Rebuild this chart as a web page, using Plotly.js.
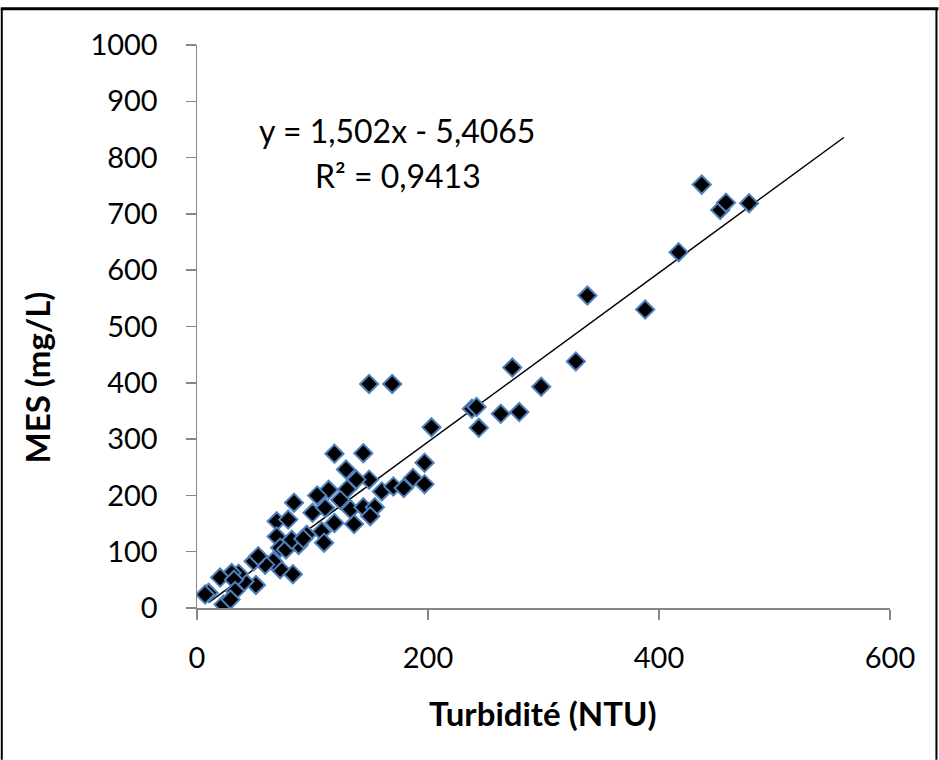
<!DOCTYPE html>
<html>
<head>
<meta charset="utf-8">
<script src="https://cdn.plot.ly/plotly-3.0.1.min.js"></script>
<style>
html,body{margin:0;padding:0;background:#fff;}
#chart{width:939px;height:760px;}
</style>
</head>
<body>
<div id="chart"></div>
<script>
const turbidite = [437,453,458,478,417,338,388,273,328,298,238,242,263,279,244,203,149,169,
  119,144,129,197,149,114,104,130,138,160,170,179,187,197,84,100,111,124,133,144,154,150,136,119,108,110,
  69,79,95,69,72,77,88,82,92,83,72,66,59,49,53,51,41,36,30,20,32,33,10,7,23,29];
const mes = [752,707,720,719,632,555,530,427,438,393,354,357,345,348,320,321,398,398,
  274,275,246,258,228,210,200,211,228,207,216,213,231,220,187,169,178,192,175,179,179,163,149,151,136,116,
  154,157,130,127,107,104,112,121,123,60,69,83,77,83,92,41,47,61,62,54,50,30,27,24,6,15];
const slope = 1.502, intercept = -5.4065;
const trendX = [10, 560];
const trendY = trendX.map(v => slope * v + intercept);
const eqLine1 = "y = 1,502x - 5,4065";
const eqLine2 = "R² = 0,9413";
const xTitle = "<b>Turbidité (NTU)</b>";
const yTitle = "<b>MES (mg/L)</b>";
const xTicks = [0, 200, 400, 600];
const yTicks = [0,100,200,300,400,500,600,700,800,900,1000];

const font = "Lato, 'Open Sans', sans-serif";
const L = 196.5, R = 890.5, T = 45.3, B = 608.3;
const W = R - L, H = B - T;
const px = v => (v - L) / W;
const py = v => (B - v) / H;

const traces = [
  {x: trendX, y: trendY, mode: 'lines', line: {color: '#000', width: 1.5}, hoverinfo: 'skip', showlegend: false},
  {x: turbidite, y: mes, mode: 'markers', showlegend: false,
   marker: {symbol: 'diamond', size: 14, color: '#000', line: {color: '#4f81bd', width: 2}}}
];

const layout = {
  width: 939, height: 760,
  margin: {l: L, r: 939 - R, t: T, b: 760 - B},
  paper_bgcolor: '#fff', plot_bgcolor: '#fff',
  font: {family: font, color: '#000', size: 29},
  xaxis: {range: [0, 600], tickvals: xTicks, ticks: 'outside', ticklen: 10, tickcolor: '#868686', tickwidth: 1.5,
    showline: true, linecolor: '#868686', linewidth: 1.5, showgrid: false, zeroline: false,
    ticklabelstandoff: 14,
    tickfont: {size: 29, family: font}},
  yaxis: {range: [0, 1000], tickvals: yTicks, ticks: 'outside', ticklen: 10, tickcolor: '#868686', tickwidth: 1.5,
    showline: true, linecolor: '#868686', linewidth: 1.5, showgrid: false, zeroline: false,
    ticklabelstandoff: 22,
    tickfont: {size: 29, family: font}},
  annotations: [
    {xref: 'paper', yref: 'paper', x: px(397), y: py(131), text: eqLine1, showarrow: false,
     xanchor: 'center', yanchor: 'middle', font: {size: 32, family: font}},
    {xref: 'paper', yref: 'paper', x: px(398), y: py(176), text: eqLine2, showarrow: false,
     xanchor: 'center', yanchor: 'middle', font: {size: 32, family: font}},
    {xref: 'paper', yref: 'paper', x: px(543), y: py(713), text: xTitle, showarrow: false,
     xanchor: 'center', yanchor: 'middle', font: {size: 33, family: font}},
    {xref: 'paper', yref: 'paper', x: px(36), y: py(378), text: yTitle, showarrow: false, textangle: -90,
     xanchor: 'center', yanchor: 'middle', font: {size: 33, family: font}}
  ],
  shapes: [
    {type: 'line', xref: 'paper', yref: 'paper', x0: px(0), x1: px(939), y0: py(9), y1: py(9), line: {color: '#000', width: 3}},
    {type: 'line', xref: 'paper', yref: 'paper', x0: px(1), x1: px(1), y0: py(9), y1: py(760), line: {color: '#000', width: 2}},
    {type: 'line', xref: 'paper', yref: 'paper', x0: px(937), x1: px(937), y0: py(9), y1: py(760), line: {color: '#000', width: 2}}
  ]
};

Plotly.newPlot('chart', traces, layout, {displayModeBar: false, staticPlot: true});
</script>
</body>
</html>
